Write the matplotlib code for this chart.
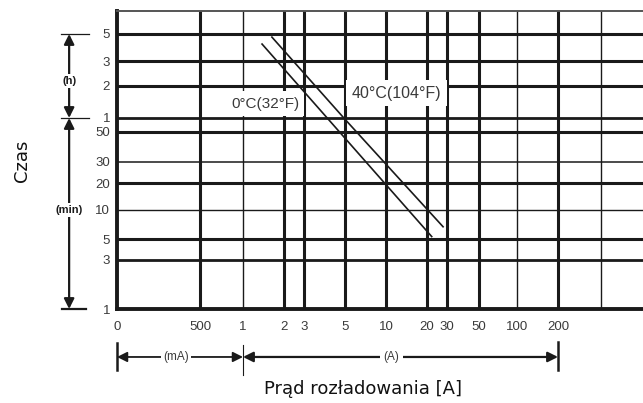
import numpy as np
import matplotlib.pyplot as plt

plt.rcParams['font.family'] = ['Liberation Sans', 'DejaVu Sans']

# opisy osi X (prad) i Y (czas)
x_ticks = [0, 0.5, 1, 2, 3, 5, 10, 20, 30, 50, 100, 200]
x_labels = ['0', '500', '1', '2', '3', '5', '10', '20', '30', '50', '100', '200']
x_extra = [300]

y_ticks = [1, 3, 5, 10, 20, 30, 50, 60, 120, 180, 300]
y_labels = ['1', '3', '5', '10', '20', '30', '50', '1', '2', '3', '5']

# krzywe rozladowania: prad [A], czas [min]
prad_0C = [1.38, 5, 22]
czas_0C = [248, 45, 5.3]
prad_40C = [1.63, 5, 27.7]
czas_40C = [283, 59, 6.7]

# schematyczna (nierowna) skala wykresu
x_anchor = [0.05, 0.5, 1, 2, 3, 5, 10, 20, 30, 50, 100, 200, 300, 500]
x_pos = [0, 83, 126, 167, 187, 228, 269, 310, 330, 362, 400, 441, 484, 526]
y_anchor = [1, 3, 5, 10, 20, 30, 50, 60, 120, 180, 300, 480]
y_pos = [0, 49, 70, 99, 126, 147, 177, 191, 223, 248, 275, 298]

# grubosc linii siatki
x_lw = [0, 2.2, 1.0, 2.2, 2.2, 2.2, 2.2, 2.2, 2.2, 2.2, 1.0, 2.2]
y_lw = [0, 2.0, 2.2, 1.0, 2.2, 1.1, 2.2, 2.0, 2.2, 2.2, 2.2]


def skala(anchor, pos):
    la = np.log10(anchor)

    def fwd(v):
        v = np.clip(np.asarray(v, dtype=float), anchor[0], None)
        return np.interp(np.log10(v), la, pos)

    def inv(p):
        return 10 ** np.interp(p, pos, la)
    return fwd, inv


kolor = '#1a1a1a'
szary = '#3a3a3a'

fig = plt.figure(figsize=(6.43, 4.03), dpi=100)
ax = fig.add_axes([117 / 643, 94 / 403, 526 / 643, 298 / 403])
ax.set_xscale('function', functions=skala(x_anchor, x_pos))
ax.set_yscale('function', functions=skala(y_anchor, y_pos))

for v, lw in zip(x_ticks, x_lw):
    if lw > 0:
        ax.axvline(v, color=kolor, lw=lw, zorder=1)
for v in x_extra:
    ax.axvline(v, color=kolor, lw=1.0, zorder=1)
for v, lw in zip(y_ticks, y_lw):
    if lw > 0:
        ax.axhline(v, color=kolor, lw=lw, zorder=1)

ax.plot(prad_0C, czas_0C, color=kolor, lw=1.2, zorder=5)
ax.plot(prad_40C, czas_40C, color=kolor, lw=1.2, zorder=5)

box = dict(boxstyle='square,pad=0.35', fc='white', ec='none')
ax.text(1.45, 82, '0°C(32°F)', fontsize=11, color=szary, ha='center', va='center',
        bbox=box, zorder=4)
ax.text(12, 103, '40°C(104°F)', fontsize=11.5, color=szary, ha='center', va='center',
        bbox=box, zorder=4)

ax.set_xticks(x_ticks)
ax.set_xticklabels(x_labels)
ax.set_yticks(y_ticks)
ax.set_yticklabels(y_labels)
ax.minorticks_off()
ax.tick_params(axis='x', length=0, pad=8.5, labelsize=9.5, labelcolor=szary)
ax.tick_params(axis='y', length=0, pad=5, labelsize=9.5, labelcolor=szary)

ax.spines['right'].set_visible(False)
ax.spines['left'].set_linewidth(2.8)
ax.spines['bottom'].set_linewidth(2.8)
ax.spines['left'].set_color(kolor)
ax.spines['bottom'].set_color(kolor)
ax.spines['top'].set_linewidth(1.4)
ax.spines['top'].set_color('#555555')

# strzalki po lewej: (h) i (min)
tr_y = ax.get_yaxis_transform()
strzalka = dict(arrowstyle='<|-|>,head_length=0.6,head_width=0.3', lw=1.6,
                color=kolor, shrinkA=0, shrinkB=0)
ax.annotate('', xy=(-0.091, 300), xytext=(-0.091, 60), xycoords=tr_y,
            textcoords=tr_y, arrowprops=strzalka, annotation_clip=False)
ax.annotate('', xy=(-0.091, 60), xytext=(-0.091, 1), xycoords=tr_y,
            textcoords=tr_y, arrowprops=strzalka, annotation_clip=False)
ax.text(-0.091, 130, '(h)', transform=tr_y, fontsize=8, fontweight='bold',
        ha='center', va='center', color=kolor, clip_on=False,
        bbox=dict(boxstyle='square,pad=0.2', fc='white', ec='none'))
ax.text(-0.091, 10, '(min)', transform=tr_y, fontsize=8, fontweight='bold',
        ha='center', va='center', color=kolor, clip_on=False,
        bbox=dict(boxstyle='square,pad=0.2', fc='white', ec='none'))
for v in [300, 60]:
    ax.plot([-0.1065, -0.0532], [v, v], transform=tr_y, clip_on=False,
            color=kolor, lw=0.9)
ax.plot([-0.1046, -0.059], [1, 1], transform=tr_y, clip_on=False,
        color=kolor, lw=1.6)

# strzalki na dole: (mA) i (A)
tr_x = ax.get_xaxis_transform()
ax.annotate('', xy=(0, -0.161), xytext=(1, -0.161), xycoords=tr_x,
            textcoords=tr_x, arrowprops=dict(strzalka, lw=1.3), annotation_clip=False)
ax.annotate('', xy=(1, -0.161), xytext=(200, -0.161), xycoords=tr_x,
            textcoords=tr_x, arrowprops=strzalka, annotation_clip=False)
ax.text(0.112, -0.161, '(mA)', transform=ax.transAxes, fontsize=8.5, color=szary,
        ha='center', va='center', clip_on=False,
        bbox=dict(boxstyle='square,pad=0.2', fc='white', ec='none'))
ax.text(0.521, -0.161, '(A)', transform=ax.transAxes, fontsize=8.5, color=szary,
        ha='center', va='center', clip_on=False,
        bbox=dict(boxstyle='square,pad=0.3', fc='white', ec='none'))
ax.plot([0, 0], [-0.114, -0.205], transform=tr_x, clip_on=False, color=kolor, lw=1.8)
ax.plot([1, 1], [-0.121, -0.221], transform=tr_x, clip_on=False, color=kolor, lw=0.8)
ax.plot([200, 200], [-0.111, -0.205], transform=tr_x, clip_on=False, color=kolor, lw=1.8)

ax.set_xlim(0, 500)
ax.set_ylim(1, 480)

ax.set_xlabel('Prąd rozładowania [A]', family='DejaVu Sans', fontsize=13, color='#111111')
ax.set_ylabel('Czas', family='DejaVu Sans', fontsize=13, color='#111111')
ax.xaxis.set_label_coords(0.468, -0.238)
ax.yaxis.set_label_coords(-0.163, 0.497)

fig.savefig('out.png', dpi=100)
